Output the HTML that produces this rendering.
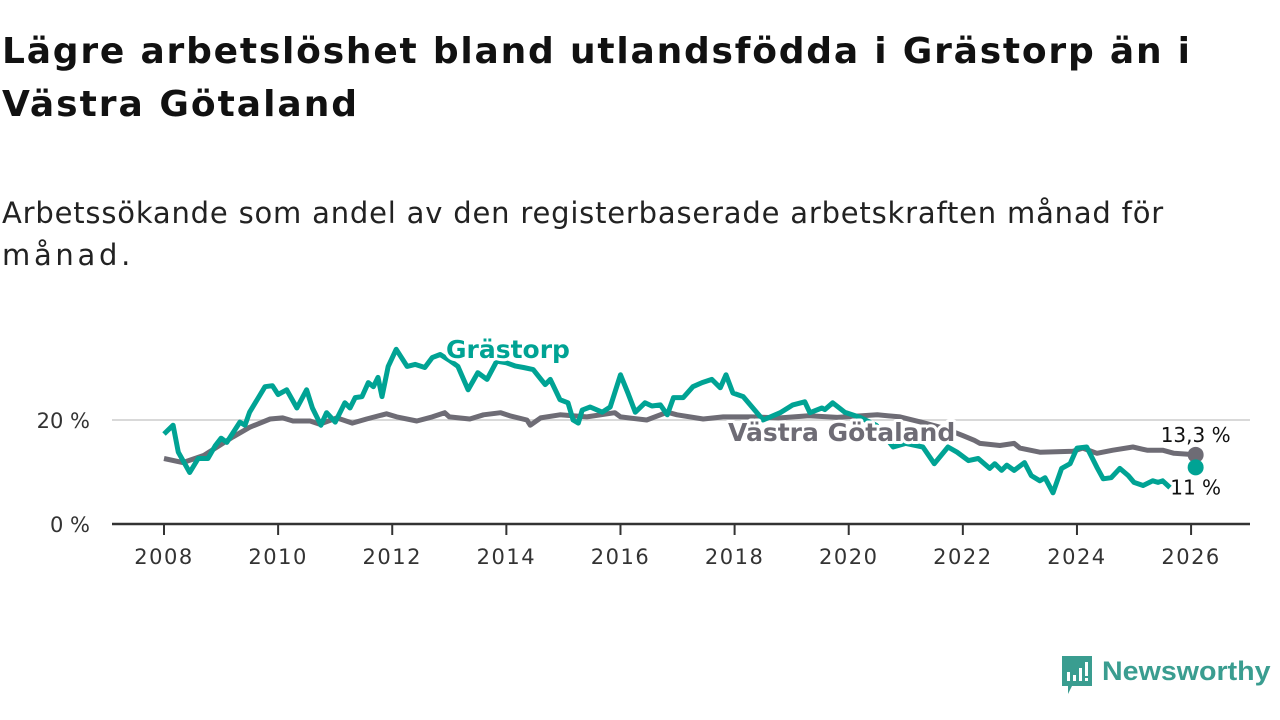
<!DOCTYPE html>
<html><head><meta charset="utf-8"><style>
html,body{margin:0;padding:0;background:#fff;width:1280px;height:720px;overflow:hidden;font-family:"DejaVu Sans","Liberation Sans",sans-serif}
.tl{position:absolute;left:2px;margin:0;font-size:36px;font-weight:bold;color:#111;white-space:nowrap;line-height:1}
.sl{position:absolute;left:2px;margin:0;font-size:29px;color:#222;white-space:nowrap;line-height:1}
svg{position:absolute;left:0;top:0}
svg text{font-family:"DejaVu Sans","Liberation Sans",sans-serif}
</style></head><body>
<div>
<div class="tl fit" data-w="1190" style="top:34px">Lägre arbetslöshet bland utlandsfödda i Grästorp än i</div>
<div class="tl fit" data-w="357" style="top:87px">Västra Götaland</div>
</div>
<div>
<div class="sl fit" data-w="1162" style="top:199px">Arbetssökande som andel av den registerbaserade arbetskraften månad för</div>
<div class="sl fit" data-w="132" style="top:241px">månad.</div>
</div>
<svg id="chart" width="1280" height="720"></svg>
<script>
const gYears=[2008.0,2008.16,2008.25,2008.45,2008.6,2008.77,2008.9,2009.0,2009.1,2009.33,2009.42,2009.5,2009.77,2009.9,2010.0,2010.15,2010.33,2010.5,2010.6,2010.75,2010.85,2011.0,2011.17,2011.26,2011.35,2011.47,2011.58,2011.67,2011.75,2011.82,2011.93,2012.07,2012.26,2012.4,2012.57,2012.7,2012.84,2013.0,2013.15,2013.33,2013.5,2013.66,2013.83,2014.0,2014.15,2014.3,2014.47,2014.68,2014.77,2014.94,2015.08,2015.17,2015.26,2015.33,2015.47,2015.68,2015.82,2016.0,2016.13,2016.26,2016.43,2016.55,2016.7,2016.82,2016.93,2017.1,2017.27,2017.43,2017.6,2017.75,2017.85,2017.97,2018.15,2018.32,2018.5,2018.8,2019.02,2019.23,2019.32,2019.53,2019.58,2019.72,2019.93,2020.2,2020.48,2020.78,2021.0,2021.3,2021.5,2021.74,2021.9,2022.1,2022.27,2022.47,2022.56,2022.68,2022.77,2022.9,2023.08,2023.2,2023.35,2023.44,2023.58,2023.73,2023.88,2024.0,2024.17,2024.35,2024.46,2024.6,2024.75,2024.9,2025.0,2025.16,2025.33,2025.42,2025.5,2025.63];
const gValues=[17.3,19,13.8,9.9,12.6,12.6,15.1,16.5,15.7,19.6,19,21.5,26.4,26.6,24.9,25.8,22.3,25.8,22.3,19,21.4,19.6,23.3,22.3,24.3,24.5,27.2,26.4,28.2,24.5,30.3,33.6,30.3,30.7,30.1,32,32.6,31.5,30.3,25.8,29.1,27.8,31.3,31,30.4,30.1,29.7,26.8,27.8,23.9,23.3,20,19.4,21.9,22.5,21.5,22.5,28.7,25.2,21.5,23.3,22.7,22.9,21,24.3,24.3,26.4,27.2,27.8,26.2,28.7,25.2,24.5,22.3,20,21.4,22.9,23.5,21.4,22.3,22,23.3,21.5,20.5,19,14.8,15.5,14.8,11.6,14.8,13.8,12.2,12.6,10.7,11.6,10.3,11.3,10.3,11.8,9.3,8.3,8.9,6.0,10.7,11.6,14.6,14.8,10.9,8.7,8.9,10.7,9.3,8.0,7.4,8.3,8.0,8.3,7.0];
const vYears=[2008.0,2008.33,2008.7,2008.93,2009.2,2009.5,2009.86,2010.08,2010.26,2010.56,2010.73,2011.03,2011.3,2011.55,2011.9,2012.08,2012.43,2012.7,2012.92,2013.0,2013.36,2013.6,2013.9,2014.06,2014.36,2014.42,2014.6,2014.94,2015.41,2015.9,2016.0,2016.46,2016.82,2016.99,2017.45,2017.8,2018.3,2018.8,2019.3,2019.8,2020.5,2020.9,2021.3,2021.7,2022.0,2022.2,2022.3,2022.65,2022.9,2023.0,2023.35,2023.93,2024.1,2024.35,2024.63,2024.98,2025.23,2025.5,2025.7,2026.08];
const vValues=[12.6,11.8,13.2,14.8,16.7,18.6,20.2,20.4,19.8,19.8,19.2,20.4,19.4,20.2,21.2,20.6,19.8,20.6,21.4,20.6,20.2,21,21.4,20.8,20,19,20.4,21,20.6,21.4,20.6,20,21.5,21,20.2,20.6,20.6,20.4,20.8,20.5,21,20.6,19.5,18.3,17,16.1,15.5,15.1,15.5,14.6,13.8,14,14.6,13.6,14.2,14.8,14.2,14.2,13.6,13.3];
const gEnd=[2026.08,10.9], vEnd=[2026.08,13.3];
const xTicks=[2008,2010,2012,2014,2016,2018,2020,2022,2024,2026];
const yTicks=[0,20];
const yTickLabels=["0 %","20 %"];

document.querySelectorAll('.fit').forEach(el=>{
  const target=+el.dataset.w, w=el.getBoundingClientRect().width, n=el.textContent.length;
  el.style.letterSpacing=((target-w)/n).toFixed(2)+'px';
});

const NS="http://www.w3.org/2000/svg", svg=document.getElementById('chart');
const X=y=>164+(y-2008)*57.06, Y=v=>524-v*5.2;
function mk(t,a,p){const e=document.createElementNS(NS,t);for(const k in a)e.setAttribute(k,a[k]);(p||svg).appendChild(e);return e;}
yTicks.forEach((t,i)=>{
  if(t>0){const g=mk('line',{x1:112,x2:1250,y1:Y(t),y2:Y(t),stroke:'#d9d9d9','stroke-width':2});
  
  }
  const l=mk('text',{x:90,y:Y(t)+8,'text-anchor':'end','font-size':21,fill:'#333'});l.textContent=yTickLabels[i];
  
  
});
xTicks.forEach(t=>{
  const tk=mk('line',{x1:X(t),x2:X(t),y1:524,y2:535,stroke:'#333','stroke-width':2});
  
  
  const l=mk('text',{x:X(t),y:564,'text-anchor':'middle','font-size':21,'letter-spacing':1.5,fill:'#333'});l.textContent=t;
  
  
});
const ax=mk('line',{x1:112,x2:1250,y1:524,y2:524,stroke:'#333','stroke-width':2.5});


function path(xs,vs){return xs.map((x,i)=>(i?'L':'M')+X(x).toFixed(1)+','+Y(vs[i]).toFixed(1)).join('');}
const vl=mk('path',{d:path(vYears,vValues),fill:'none',stroke:'#6e6c75','stroke-width':5,'stroke-linejoin':'round'});


const gl=mk('path',{d:path(gYears,gValues),fill:'none',stroke:'#00a394','stroke-width':5,'stroke-linejoin':'round'});


const vd=mk('circle',{cx:X(vEnd[0]),cy:Y(vEnd[1]),r:8,fill:'#6e6c75'});


const gd=mk('circle',{cx:X(gEnd[0]),cy:Y(gEnd[1]),r:8,fill:'#00a394'});


function lab(txt,x,y,c,sz,w,name,anchor){const a={x:x,y:y,'font-size':sz,'font-weight':w,fill:c,stroke:'#fff','stroke-width':6,'paint-order':'stroke','stroke-linejoin':'round','text-anchor':anchor||'start'};const t=mk('text',a);t.textContent=txt;

}
lab('Grästorp',446,358,'#00a394',25,'bold','grastorp-label');
lab('Västra Götaland',728,441,'#6e6c75',25,'bold','vastra-gotaland-label');
lab('13,3 %',X(vEnd[0]),Y(vEnd[1])-13,'#111',20,'normal','vastra-gotaland-end-value','middle');
lab('11 %',X(gEnd[0]),Y(gEnd[1])+27,'#111',20,'normal','grastorp-end-value','middle');
</script>
<div style="position:absolute;left:1060px;top:656px;width:220px;height:42px">
<svg width="34" height="40" style="position:absolute;left:0;top:0"><path d="M2 0h30v30H12l-4 8v-8H2z" fill="#3a9d90"/><rect x="7" y="16" width="3" height="9" fill="#fff"/><rect x="13" y="19" width="3" height="6" fill="#fff"/><rect x="19" y="12" width="3" height="13" fill="#fff"/><rect x="25" y="6" width="3" height="14" fill="#fff"/><rect x="25" y="22" width="3" height="3" fill="#fff"/></svg>
<span style="position:absolute;left:42px;top:0px;font-size:27px;font-weight:bold;color:#3a9d90;font-family:'Liberation Sans',sans-serif;transform:scaleX(1.06);transform-origin:left">Newsworthy</span>
</div>
</body></html>
